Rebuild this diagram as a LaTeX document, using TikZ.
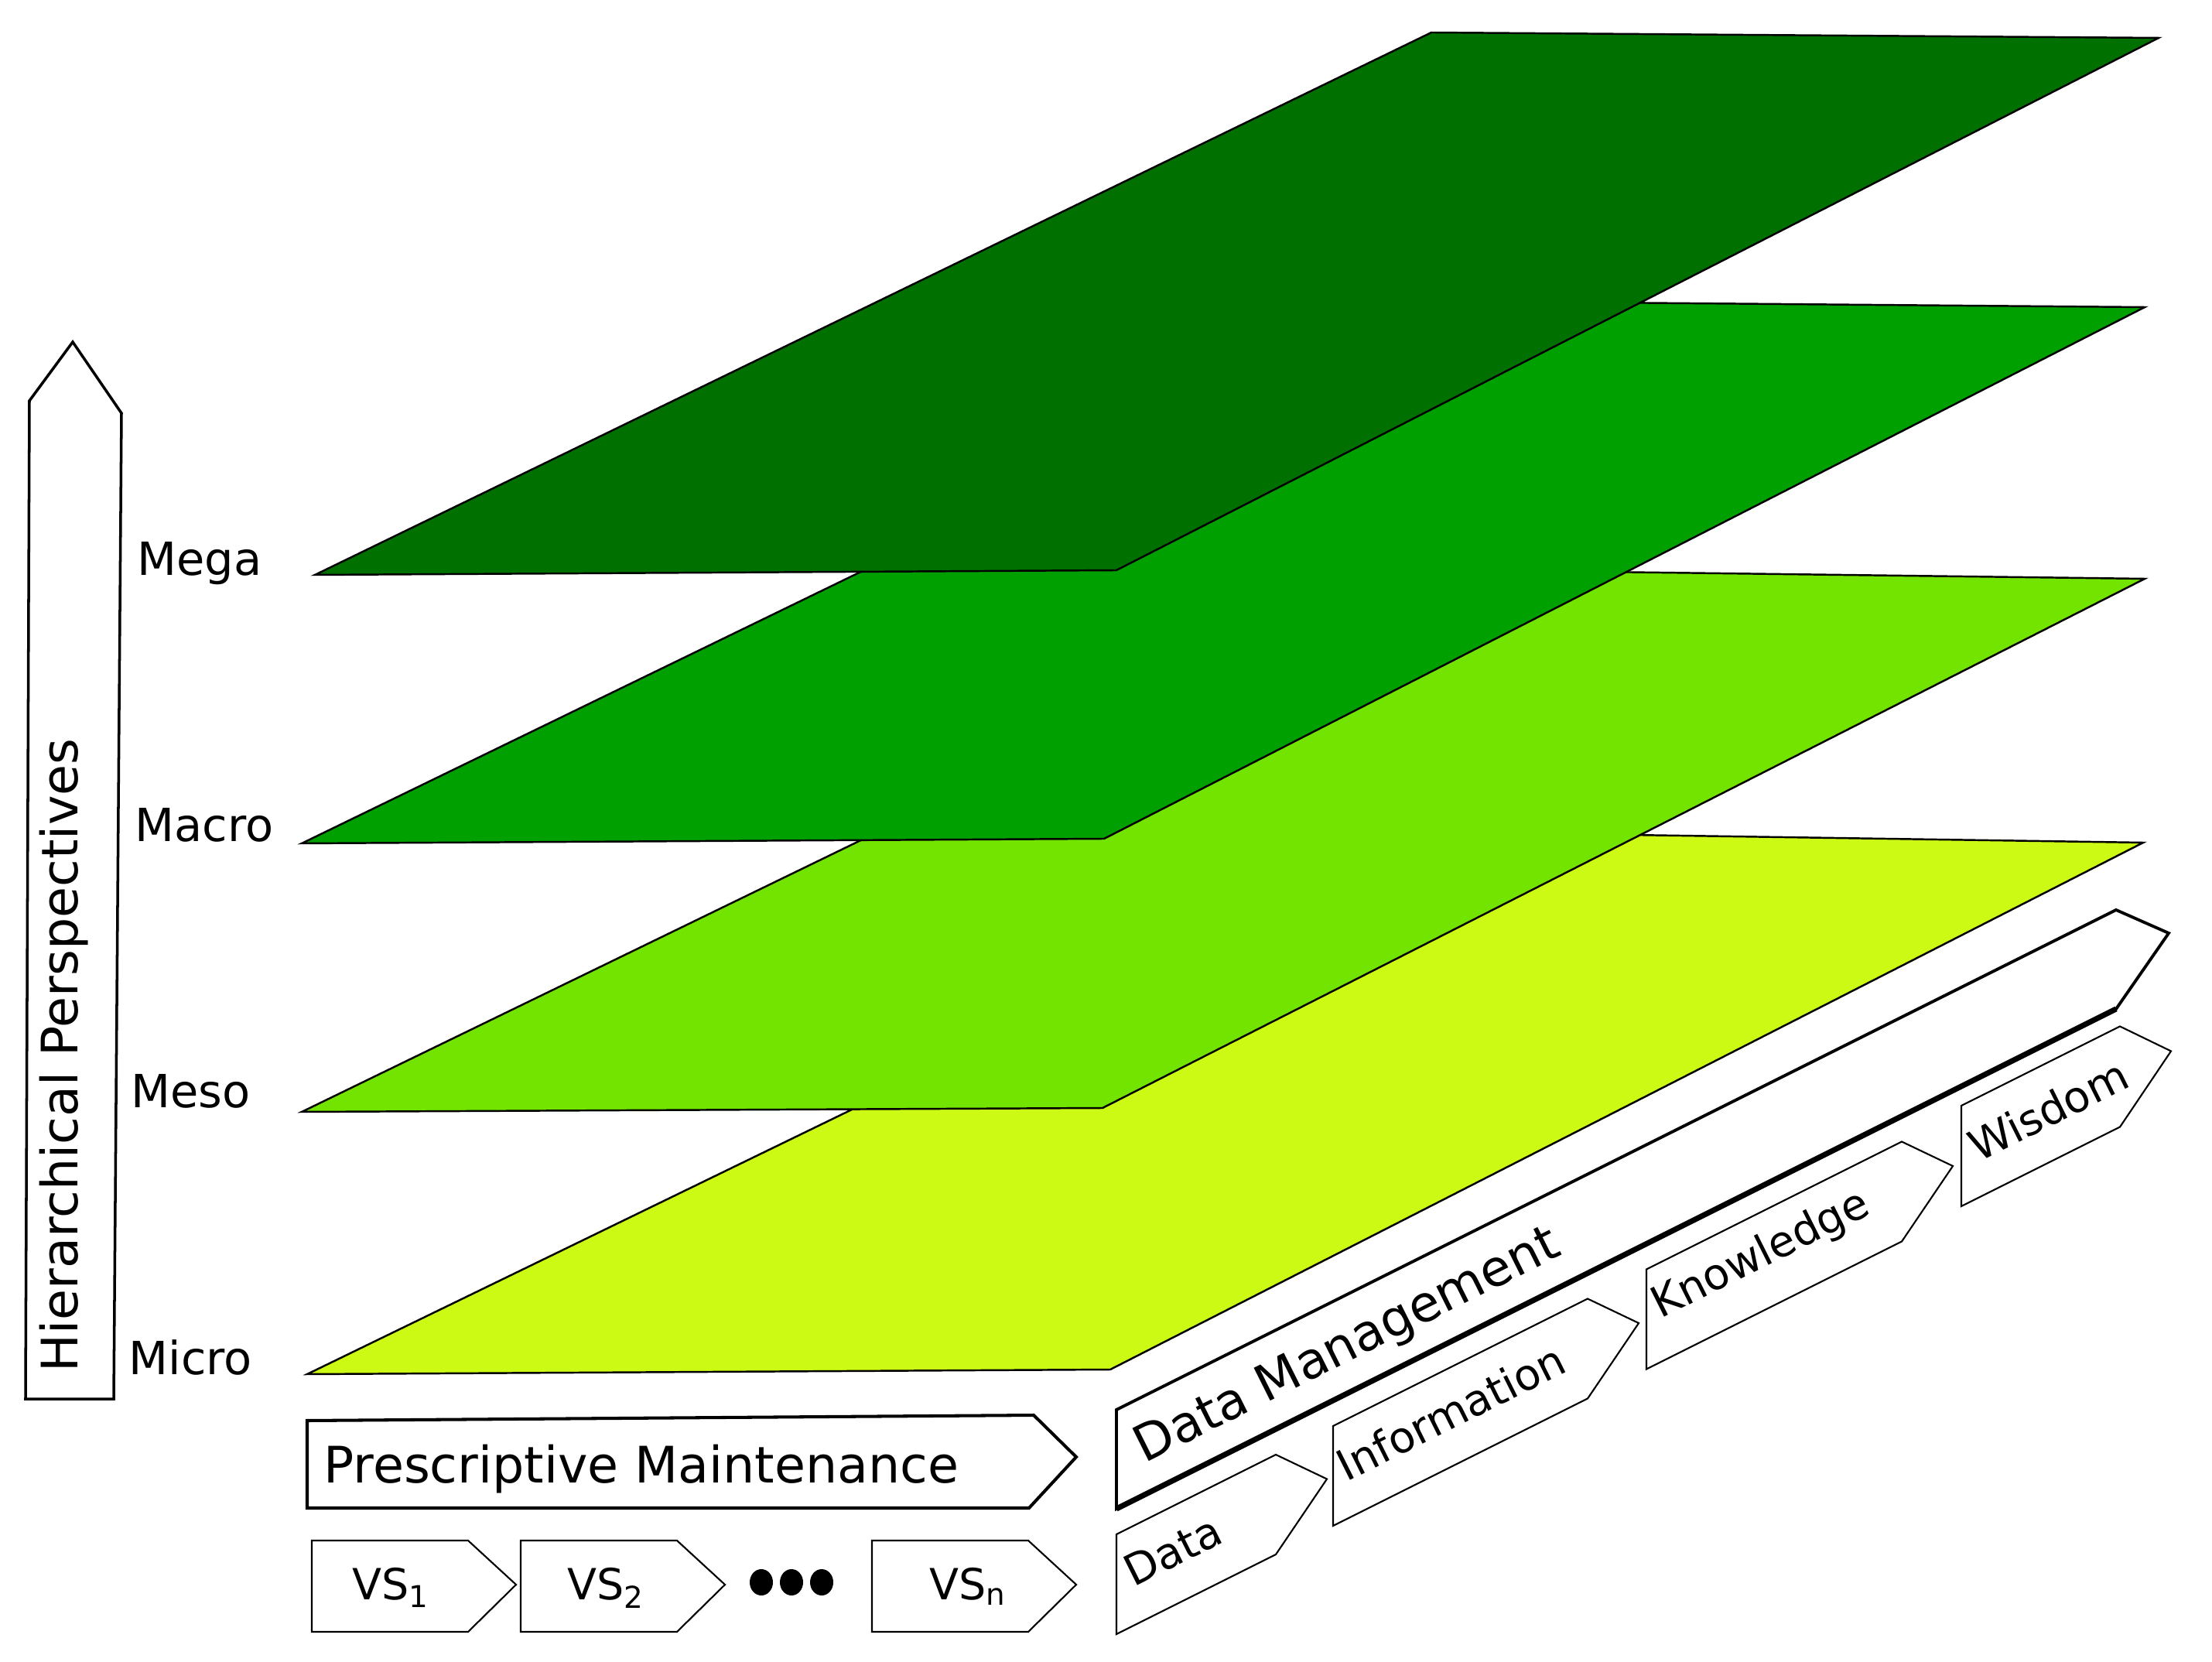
\documentclass[tikz,border=0pt]{standalone}
\usepackage{fontspec}
\setmainfont{DejaVu Sans}
\definecolor{megagreen}{RGB}{0,112,0}
\definecolor{macrogreen}{RGB}{0,160,0}
\definecolor{mesogreen}{RGB}{114,228,0}
\definecolor{microgreen}{RGB}{204,250,20}
\begin{document}
\begin{tikzpicture}[line join=miter,
    plane/.style={draw=black,line width=0.7pt},
    thinbox/.style={draw=black,line width=0.6pt},
    tag/.style={inner sep=0pt,anchor=base west},
    bigfont/.style={font=\fontsize{18.5}{22}\selectfont},
    levelfont/.style={font=\fontsize{16.8}{20}\selectfont},
    smallfont/.style={font=\fontsize{15.8}{19}\selectfont}]
  \useasboundingbox (0,0) rectangle (28.59,21.47);

  % Ebenen - von unten nach oben
  \draw[plane,fill=microgreen] (3.97,3.71) -- (14.35,3.77) -- (27.70,10.58) -- (18.40,10.72) -- cycle;
  \draw[plane,fill=mesogreen] (3.90,7.10) -- (14.25,7.15) -- (27.72,13.99) -- (18.33,14.11) -- cycle;
  \draw[plane,fill=macrogreen] (3.90,10.57) -- (14.27,10.63) -- (27.72,17.50) -- (18.33,17.58) -- cycle;
  \draw[plane,fill=megagreen] (4.07,14.04) -- (14.43,14.10) -- (27.90,20.98) -- (18.50,21.05) -- cycle;

  % Beschriftung der Ebenen
  \node[tag,levelfont] (mega) at (1.77,14.03) {Mega};
  \node[tag,levelfont] (macro) at (1.74,10.59) {Macro};
  \node[tag,levelfont] (meso) at (1.69,7.16) {Meso};
  \node[tag,levelfont] (micro) at (1.66,3.71) {Micro};

  % Pfeil links
  \draw[line width=1pt] (0.33,3.39) -- (1.47,3.39) -- (1.57,16.13) -- (0.94,17.05) -- (0.38,16.29) -- cycle;
  \node[tag,bigfont,rotate=90] (hp) at (1.00,3.73) {Hierarchical Perspectives};

  % Prescriptive Maintenance
  \draw[line width=1.15pt] (3.97,1.98) -- (13.30,1.98) -- (13.91,2.64) -- (13.36,3.18) -- (3.97,3.11) -- cycle;
  \node[tag,bigfont] (pm) at (4.18,2.31) {Prescriptive Maintenance};

  % VS-Kaestchen
  \foreach \x in {4.03,6.73,11.27}
    \draw[thinbox] (\x,0.38) -- ++(2.02,0) -- ++(0.62,0.61) -- ++(-0.62,0.57) -- ++(-2.02,0) -- cycle;
  \node[tag,smallfont] (vs1) at (4.55,0.80) {VS\textsubscript{1}};
  \node[tag,smallfont] (vs2) at (7.33,0.80) {VS\textsubscript{2}};
  \node[tag,smallfont] (vsn) at (12.01,0.80) {VS\textsubscript{n}};
  \foreach \x in {9.84,10.23,10.62}
    \fill (\x,1.02) ellipse [x radius=0.15,y radius=0.17];

  % Data Management - schraeg
  \begin{scope}[cm={1,0.5,0,1,(0,-7.215)}]
    \draw[line width=1.1pt] (14.43,1.97) -- (27.35,1.97) -- (28.03,2.61) -- (27.35,3.25) -- (14.43,3.25) -- cycle;
    \draw[line width=2pt] (14.43,1.97) -- (27.35,1.97);
    \foreach \xa/\xb in {14.43/16.49,17.23/20.52,21.28/24.58}
      \draw[thinbox] (\xa,0.35) -- (\xb,0.35) -- (\xb+0.66,0.995) -- (\xb,1.64) -- (\xa,1.64) -- cycle;
    \draw[thinbox] (25.35,0.42) -- (27.40,0.42) -- (28.06,1.07) -- (27.40,1.72) -- (25.35,1.72) -- cycle;
  \end{scope}
  \node[tag,bigfont,rotate=26.57] (dm) at (14.79,2.55) {Data Management};
  \node[tag,smallfont,rotate=26.57] (data) at (14.65,0.95) {Data};
  \node[tag,smallfont,rotate=26.57] (info) at (17.40,2.31) {Information};
  \node[tag,smallfont,rotate=26.57] (know) at (21.46,4.42) {Knowledge};
  \node[tag,smallfont,rotate=26.57] (wis) at (25.57,6.44) {Wisdom};
\end{tikzpicture}
\end{document}
